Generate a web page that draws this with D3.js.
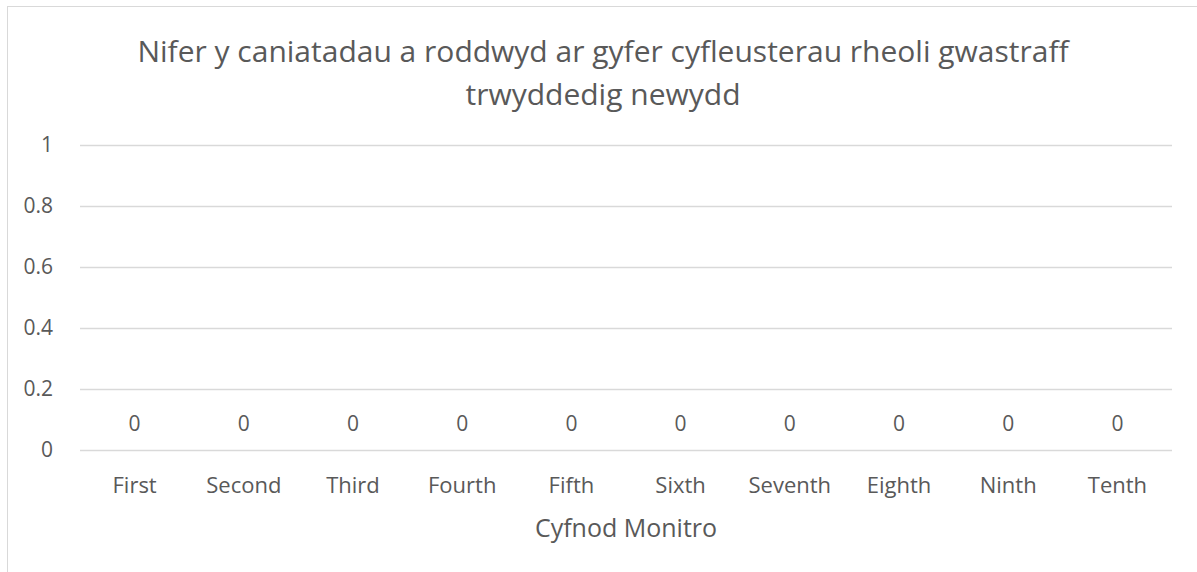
<!DOCTYPE html>
<meta charset="utf-8">
<script src="https://d3js.org/d3.v7.min.js"></script>
<style>
  body { margin: 0; background: #fff; }
  text { font-family: "Open Sans", "Noto Sans", sans-serif; fill: #595959; }
</style>
<div id="chart"></div>
<script>
// chart data
let categories = ["First", "Second", "Third", "Fourth", "Fifth", "Sixth", "Seventh", "Eighth", "Ninth", "Tenth"];
let values = [0, 0, 0, 0, 0, 0, 0, 0, 0, 0];
let yTicks = [0, 0.2, 0.4, 0.6, 0.8, 1];
let titleLines = ["Nifer y caniatadau a roddwyd ar gyfer cyfleusterau rheoli gwastraff", "trwyddedig newydd"];
let xTitle = "Cyfnod Monitro";

let W = 1197, H = 572;
let margin = {top: 145, right: 25, bottom: 122, left: 80};
let width = W - margin.left - margin.right,
    height = H - margin.top - margin.bottom;

let svg = d3.select("#chart").append("svg")
    .attr("width", W)
    .attr("height", H);

// chart area border
svg.append("rect")
    .attr("x", 7.5).attr("y", 6.5)
    .attr("width", W).attr("height", H)
    .attr("fill", "none")
    .attr("stroke", "#d9d9d9")
    .attr("stroke-width", 1);

// title
svg.append("g").selectAll("text")
    .data(titleLines)
    .join("text")
    .attr("x", 603)
    .attr("y", (d, i) => 62 + i * 43)
    .attr("text-anchor", "middle")
    .style("font-size", "30px")
    .text(d => d);

let g = svg.append("g")
    .attr("transform", "translate(" + margin.left + "," + margin.top + ")");

let x = d3.scaleBand()
    .domain(categories)
    .range([0, width]);

let y = d3.scaleLinear()
    .domain([0, 1])
    .range([height, 0]);

// gridlines
g.append("g")
    .attr("class", "grid")
    .call(d3.axisLeft(y).tickValues(yTicks).tickSize(-width).tickFormat(""))
    .call(s => s.select(".domain").remove())
    .call(s => s.selectAll("line").attr("stroke", "#d9d9d9").attr("stroke-width", 1.3));

// y axis labels
g.append("g")
    .call(d3.axisLeft(y).tickValues(yTicks).tickSize(0).tickPadding(27).tickFormat(d3.format("")))
    .call(s => s.select(".domain").remove())
    .call(s => s.selectAll("text").style("font-size", "21px").attr("fill", "#595959"));

// x axis labels
g.append("g")
    .attr("transform", "translate(0," + height + ")")
    .call(d3.axisBottom(x).tickSize(0).tickPadding(27))
    .call(s => s.select(".domain").remove())
    .call(s => s.selectAll("text").style("font-size", "22px").attr("fill", "#595959"));

// bars (zero height) and their labels
g.append("g").selectAll("rect")
    .data(values)
    .join("rect")
    .attr("x", (d, i) => x(categories[i]) + x.bandwidth() * 0.2)
    .attr("width", x.bandwidth() * 0.6)
    .attr("y", d => y(d))
    .attr("height", d => height - y(d))
    .attr("fill", "#4472c4");

g.append("g").selectAll("text")
    .data(values)
    .join("text")
    .attr("x", (d, i) => x(categories[i]) + x.bandwidth() / 2)
    .attr("y", d => y(d) - 19)
    .attr("text-anchor", "middle")
    .style("font-size", "21px")
    .text(d => d);

// x axis title
svg.append("text")
    .attr("x", margin.left + width / 2)
    .attr("y", 537)
    .attr("text-anchor", "middle")
    .style("font-size", "25px")
    .text(xTitle);
</script>
